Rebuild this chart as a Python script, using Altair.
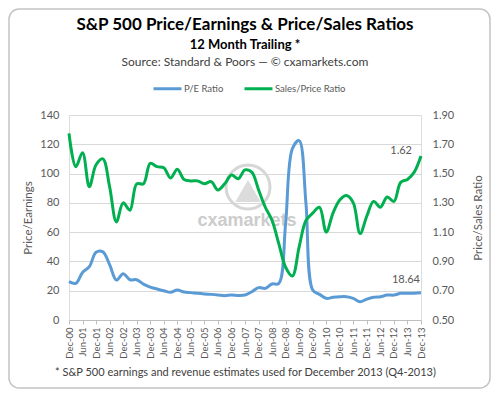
import altair as alt
import pandas as pd

# ---- data -------------------------------------------------------------
quarters = ["Dec-00"] + [f"{m}-{y:02d}" for y in range(1, 14) for m in ["Mar", "Jun", "Sep", "Dec"]]
x_labels = [q for q in quarters if q.startswith(("Jun", "Dec"))]

pe_ratio = [26.2, 25.0, 32.5, 36.4, 46.2, 46.5, 37.8, 27.3, 31.6, 27.5,
            27.5, 24.5, 22.5, 21.2, 20.0, 18.9, 20.5, 19.1, 18.7, 18.2,
            17.8, 17.5, 17.1, 16.6, 17.1, 16.8, 17.1, 19.3, 22.1, 21.6,
            24.6, 25.0, 66.0, 117.0, 122.5, 80.0, 20.5, 17.5, 14.8, 15.5,
            15.9, 15.9, 14.8, 12.5, 14.3, 15.5, 15.9, 17.0, 17.0, 18.2,
            18.2, 18.3, 18.64]
ps_ratio = [1.775, 1.547, 1.643, 1.41, 1.56, 1.60, 1.41, 1.17, 1.30, 1.25,
            1.43, 1.43, 1.57, 1.547, 1.54, 1.47, 1.53, 1.46, 1.45, 1.45,
            1.43, 1.445, 1.388, 1.43, 1.49, 1.465, 1.525, 1.51, 1.39, 1.27,
            1.18, 1.02, 0.86, 0.80, 1.00, 1.18, 1.23, 1.27, 1.10, 1.23,
            1.32, 1.35, 1.30, 1.09, 1.21, 1.31, 1.27, 1.34, 1.31, 1.44,
            1.46, 1.51, 1.62]

left_ticks = [0, 20, 40, 60, 80, 100, 120, 140]
right_ticks = [0.5, 0.7, 0.9, 1.1, 1.3, 1.5, 1.7, 1.9]
series_names = ["P/E Ratio", "Sales/Price Ratio"]
series_colors = ["#5B9BD5", "#00B050"]

title_text = "S&P 500 Price/Earnings & Price/Sales Ratios"
subtitle_text = "12 Month Trailing *"
source_text = "Source: Standard & Poors \u2014 \u00a9 cxamarkets.com"
footnote = "* S&P 500 earnings and revenue estimates used for December 2013 (Q4-2013)"

df = pd.DataFrame({"quarter": quarters, "pe": pe_ratio, "ps": ps_ratio})
last_q = quarters[-1]

FONT = "Lato"
GRAY = "#595959"
W, H = 352, 205

x_enc = alt.X(
    "quarter:O",
    sort=quarters,
    scale=alt.Scale(type="point", padding=0),
    axis=alt.Axis(
        values=x_labels, labelAngle=270, labelFontSize=9.5, labelColor=GRAY,
        labelPadding=3, tickSize=4, tickColor="#bfbfbf", domainColor="#bfbfbf",
        grid=False, title=footnote, titleFontWeight="normal", titleFontSize=11,
        titleColor="#404040", titlePadding=8, labelFont=FONT, titleFont=FONT,
    ),
)

color_enc = alt.Color(
    "series:N",
    scale=alt.Scale(domain=series_names, range=series_colors),
    legend=alt.Legend(
        orient="none", legendX=83, legendY=-42, direction="horizontal",
        title=None, symbolType="stroke", symbolSize=784, symbolStrokeWidth=3,
        labelFontSize=9.5, labelColor=GRAY, labelFont=FONT, columnPadding=14,
        labelOffset=1, padding=0,
    ),
)

y_left = alt.Y(
    "pe:Q",
    scale=alt.Scale(domain=[0, 140]),
    axis=alt.Axis(
        values=left_ticks, title="Price/Earnings", grid=True, gridColor="#d9d9d9",
        domain=False, ticks=False, labelPadding=10, labelColor=GRAY, labelFontSize=11,
        labelFont=FONT, titleFont=FONT, titleColor=GRAY, titleFontWeight="normal",
        titleFontSize=11.5, titleAngle=270, titleX=-41, titleY=H / 2,
        titleAlign="center", titleBaseline="middle",
    ),
)
y_right = alt.Y(
    "ps:Q",
    scale=alt.Scale(domain=[0.5, 1.9]),
    axis=alt.Axis(
        values=right_ticks, format=".2f", orient="right", title="Price/Sales Ratio",
        grid=False, domain=False, ticks=False, labelPadding=11,
        labelColor=GRAY, labelFontSize=11, labelFont=FONT, titleFont=FONT,
        titleColor=GRAY, titleFontWeight="normal", titleFontSize=11.5,
        titleAngle=270, titleX=57, titleY=H / 2, titleAlign="center",
        titleBaseline="middle",
    ),
)

base = alt.Chart(df)

blue_line = base.mark_line(strokeWidth=3, interpolate="catmull-rom").encode(
    x=x_enc, y=y_left, color=color_enc
).transform_calculate(series="'P/E Ratio'")
blue_text = base.mark_text(align="right", baseline="middle", dx=-1, dy=-13,
                           fontSize=11, color=GRAY, font=FONT).encode(
    x=x_enc, y=y_left, text=alt.Text("pe:Q", format=".2f")
).transform_filter(alt.datum.quarter == last_q)

green_line = base.mark_line(strokeWidth=3, interpolate="catmull-rom").encode(
    x=x_enc, y=y_right, color=color_enc
).transform_calculate(series="'Sales/Price Ratio'")
green_text = base.mark_text(align="right", baseline="middle", dx=-9, dy=-5,
                            fontSize=11, color=GRAY, font=FONT).encode(
    x=x_enc, y=y_right, text=alt.Text("ps:Q", format=".2f")
).transform_filter(alt.datum.quarter == last_q)

# ---- decorations: frame, header texts, watermark -----------------------
hdr = pd.DataFrame({"title": [title_text], "sub": [subtitle_text], "src": [source_text]})
deco_base = alt.Chart(hdr)
frame = deco_base.mark_rect(cornerRadius=10, fill="transparent", stroke="#c4c4c4",
                            strokeWidth=1.5).encode(
    x=alt.value(-60), x2=alt.value(421), y=alt.value(-106), y2=alt.value(273))
ring = deco_base.mark_point(shape="circle", filled=False, size=1936, strokeWidth=3,
                            color="#d6d6d6", opacity=1).encode(
    x=alt.value(179), y=alt.value(72))
tri = deco_base.mark_point(shape="triangle-up", filled=True, size=650,
                           color="#dcdcdc", opacity=1).encode(
    x=alt.value(179), y=alt.value(76))
wm = deco_base.mark_text(text="cxamarkets", font="Liberation Sans", fontWeight="bold",
                         fontSize=18, color="#cccccc").encode(
    x=alt.value(178), y=alt.value(106))
t_main = deco_base.mark_text(fontSize=17, fontWeight="bold", color="#000000",
                             font=FONT, baseline="middle").encode(
    text="title:N", x=alt.value(W / 2), y=alt.value(-90))
t_sub = deco_base.mark_text(fontSize=13, fontWeight="bold", color="#000000",
                            font=FONT, baseline="middle").encode(
    text="sub:N", x=alt.value(W / 2), y=alt.value(-70))
t_src = deco_base.mark_text(fontSize=12, color="#404040", font=FONT,
                            baseline="middle").encode(
    text="src:N", x=alt.value(W / 2), y=alt.value(-53))

deco = alt.layer(frame, ring, tri, wm, t_main, t_sub, t_src)
left = alt.layer(blue_line, blue_text)
right = alt.layer(green_line, green_text)

chart = alt.layer(deco, left, right).resolve_scale(y="independent").properties(
    width=W,
    height=H,
    autosize=alt.AutoSizeParams(type="none"),
    padding={"left": 61, "top": 107, "right": 71, "bottom": 70},
).configure_view(stroke=None).configure(font=FONT)

chart.save("out.html", embed_options={"renderer": "svg", "actions": False})
